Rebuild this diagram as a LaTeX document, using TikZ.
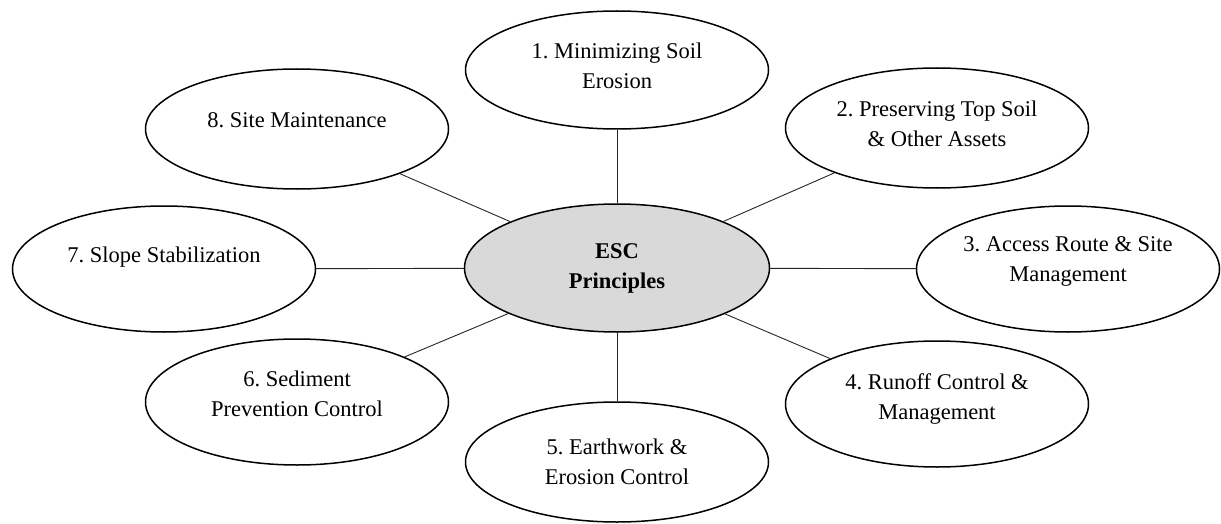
\documentclass[tikz,border=0pt]{standalone}
\usepackage{fontspec}
\setmainfont{Liberation Serif}
\usetikzlibrary{shapes.geometric}
\definecolor{hubgray}{HTML}{D9D9D9}
\frenchspacing
\begin{document}
\begin{tikzpicture}[x=1pt,y=-1pt,
  outer/.style={ellipse,draw=black,line width=1.5pt,fill=white,minimum width=303pt,minimum height=122pt,inner sep=0pt},
  hub/.style={ellipse,draw=black,line width=1.5pt,fill=hubgray,minimum width=305pt,minimum height=128pt,inner sep=0pt},
  lbl/.style={align=center,font=\fontsize{22.5}{30}\selectfont\frenchspacing,inner sep=0pt},
  link/.style={draw=black!85,line width=0.9pt}]
\path[use as bounding box] (0,0) rectangle (1221,524);
\node[hub] (c) at (617,268) {};
\node[outer,minimum height=118pt] (e1) at (617,70) {};
\node[outer,minimum height=120pt] (e2) at (937,128) {};
\node[outer,minimum height=126pt] (e3) at (1068,269) {};
\node[outer,minimum height=126pt] (e4) at (937,404) {};
\node[outer,minimum height=120pt] (e5) at (617,462) {};
\node[outer,minimum height=126pt] (e6) at (297,402) {};
\node[outer,minimum height=126pt] (e7) at (164,269) {};
\node[outer,minimum height=120pt] (e8) at (297,129) {};
\foreach \i in {1,...,8} {\draw[link] (c) -- (e\i);}
\node[lbl,font=\fontsize{22.5}{30}\selectfont\bfseries] (tc) at (c.center) {ESC\\Principles};
\node[lbl] (t1) at ([yshift=4pt]e1.center) {1. Minimizing Soil\\Erosion};
\node[lbl] (t2) at ([yshift=4pt]e2.center) {2. Preserving Top Soil\\\& Other Assets};
\node[lbl] (t3) at ([yshift=8pt]e3.center) {3. Access Route \& Site\\Management};
\node[lbl] (t4) at ([yshift=5pt]e4.center) {4. Runoff Control \&\\Management};
\node[lbl] (t5) at ([yshift=0pt]e5.center) {5. Earthwork \&\\Erosion Control};
\node[lbl] (t6) at ([yshift=8pt]e6.center) {6. Sediment\\Prevention Control};
\node[lbl] (t7) at ([yshift=12pt]e7.center) {7. Slope Stabilization};
\node[lbl] (t8) at ([yshift=9pt]e8.center) {8. Site Maintenance};
\end{tikzpicture}
\end{document}
